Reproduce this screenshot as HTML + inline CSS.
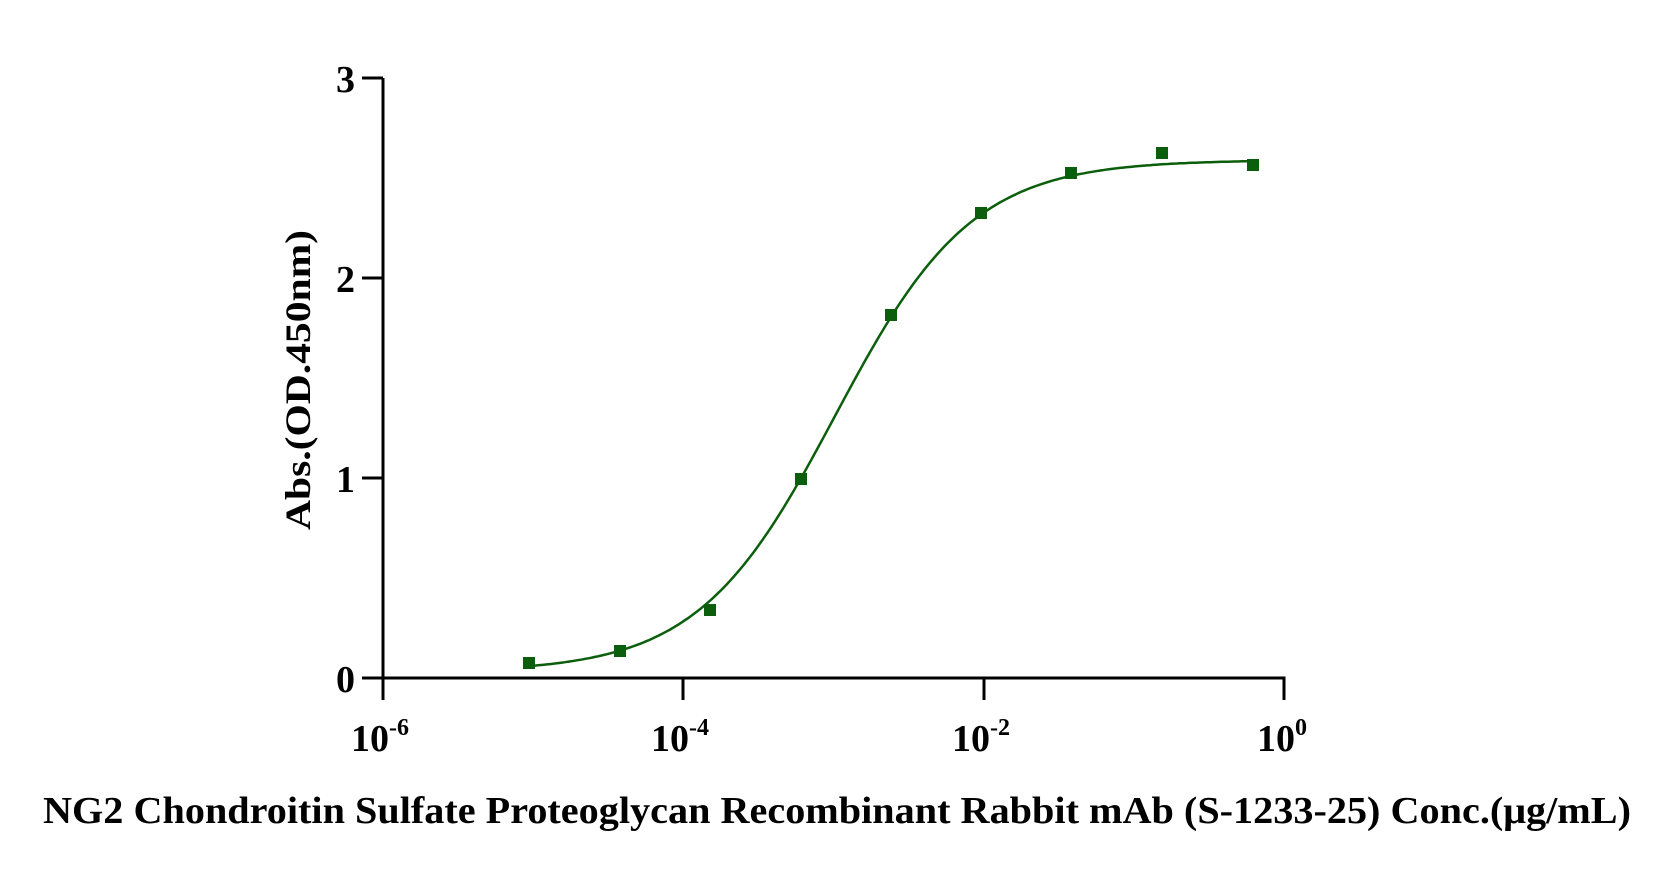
<!DOCTYPE html>
<html><head><meta charset="utf-8"><style>html,body{margin:0;padding:0;background:#fff}svg{display:block}</style></head>
<body>
<svg width="1668" height="873" viewBox="0 0 1668 873" xmlns="http://www.w3.org/2000/svg" font-family="Liberation Serif, serif" font-weight="bold">
<g stroke="#000" stroke-width="3" fill="none">
<path d="M383,78 V678 H1284 V700"/>
<path d="M362,78 H383 M362,278 H383 M362,478 H383 M362,678 H383"/>
<path d="M383,678 V700 M683,678 V700 M984,678 V700"/>
</g>
<g font-size="38" text-anchor="end">
<text x="355" y="92">3</text>
<text x="355" y="292">2</text>
<text x="355" y="492">1</text>
<text x="355" y="692">0</text>
</g>
<g font-size="38">
<text x="351" y="751">10<tspan font-size="24" dy="-16">-6</tspan></text>
<text x="651" y="751">10<tspan font-size="24" dy="-16">-4</tspan></text>
<text x="952" y="751">10<tspan font-size="24" dy="-16">-2</tspan></text>
<text x="1257" y="751">10<tspan font-size="24" dy="-16">0</tspan></text>
</g>
<text transform="translate(310,380) rotate(-90)" font-size="36" text-anchor="middle" textLength="300" lengthAdjust="spacingAndGlyphs">Abs.(OD.450nm)</text>
<text x="837" y="823" font-size="38" text-anchor="middle" textLength="1588" lengthAdjust="spacingAndGlyphs">NG2 Chondroitin Sulfate Proteoglycan Recombinant Rabbit mAb (S-1233-25) Conc.(μg/mL)</text>
<path id="curve" fill="none" stroke="#0b5e0b" stroke-width="2.5" d=""/>
<g fill="#0b5e0b">
<rect x="523" y="657" width="12" height="12"/>
<rect x="614" y="645" width="12" height="12"/>
<rect x="704" y="604" width="12" height="12"/>
<rect x="795" y="473" width="12" height="12"/>
<rect x="885" y="309" width="12" height="12"/>
<rect x="975" y="207" width="12" height="12"/>
<rect x="1065" y="167" width="12" height="12"/>
<rect x="1156" y="147" width="12" height="12"/>
<rect x="1247" y="159" width="12" height="12"/>
</g>
<script>
var d="",B=0.03,T=2.59,h=1.9,xc=835;
for(var x=529;x<=1253;x+=3){var u=(x-xc)/300.3;var y=B+(T-B)/(1+Math.pow(10,-h*u));var py=678-y*200;d+=(d?"L":"M")+x+","+py.toFixed(1);}
document.getElementById("curve").setAttribute("d",d);
</script>
</svg>
</body></html>
